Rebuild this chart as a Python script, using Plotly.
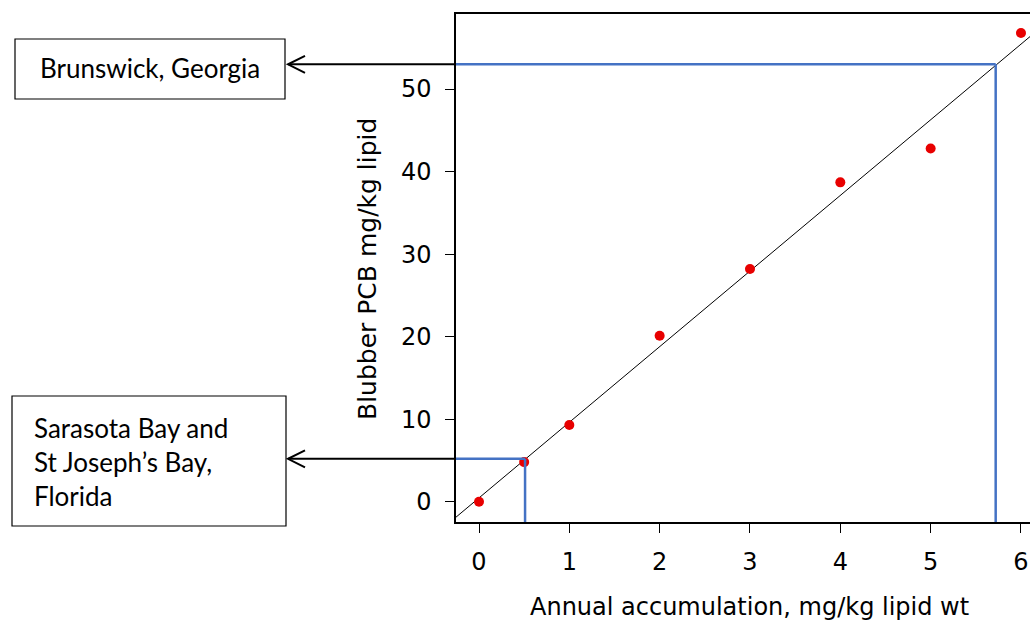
import numpy as np
import plotly.graph_objects as go

# ---- data ----
accum = [0, 0.5, 1, 2, 3, 4, 5, 6]                       # mg/kg lipid wt per year
blubber = [0.0, 4.8, 9.3, 20.1, 28.2, 38.7, 42.8, 56.8]  # mg/kg lipid
lookup_x = [0.51, 5.72]        # annual accumulation read-off points
lookup_y = [5.2, 53.0]         # corresponding blubber PCB levels
site_labels = ["Sarasota Bay and<br>St Joseph\u2019s Bay,<br>Florida", "Brunswick, Georgia"]
x_ticks = [0, 1, 2, 3, 4, 5, 6]
y_ticks = [0, 10, 20, 30, 40, 50]
x_title = "Annual accumulation, mg/kg lipid wt"
y_title = "Blubber PCB mg/kg lipid"

# regression line
slope, intercept = np.polyfit(accum, blubber, 1)

# ---- layout geometry (pixels) ----
W, H = 1030, 627
PL, PR, PT, PB = 456, 1030, 14, 522
XR = [-0.2546, 6.10]
YR = [-2.46, 59.1]


def px(xp):
    return (xp - PL) / (PR - PL)


def py(yp):
    return (PB - yp) / (PB - PT)


yunit_per_px = (YR[1] - YR[0]) / (PB - PT)

fig = go.Figure()

# fitted line across full x range
fx = np.array(XR)
fig.add_trace(go.Scatter(x=fx, y=intercept + slope * fx, mode="lines",
                         line=dict(color="black", width=1), hoverinfo="skip",
                         showlegend=False))

# data points
fig.add_trace(go.Scatter(x=accum, y=blubber, mode="markers",
                         marker=dict(color="#e80000", size=10),
                         showlegend=False, cliponaxis=False))

shapes = []
blue = "#4472C4"
for lx, ly in zip(lookup_x, lookup_y):
    shapes.append(dict(type="line", xref="x", yref="y", x0=lx, x1=lx, y0=YR[0], y1=ly,
                       line=dict(color=blue, width=2.5)))
    shapes.append(dict(type="line", xref="x", yref="y", x0=XR[0], x1=lx, y0=ly, y1=ly,
                       line=dict(color=blue, width=2.5)))
    shapes.append(dict(type="line", xref="paper", yref="y", x0=px(455), x1=px(288), y0=ly, y1=ly,
                       line=dict(color="black", width=2)))
    dy = 8.5 * yunit_per_px
    shapes.append(dict(type="path", xref="paper", yref="y",
                       path=f"M {px(305)},{ly + dy} L {px(288)},{ly} L {px(305)},{ly - dy}",
                       line=dict(color="black", width=2)))

# label boxes
shapes.append(dict(type="rect", xref="paper", yref="paper", x0=px(15), x1=px(285), y0=py(39), y1=py(99),
                   line=dict(color="black", width=1.2), fillcolor="white"))
shapes.append(dict(type="rect", xref="paper", yref="paper", x0=px(12), x1=px(286), y0=py(396), y1=py(526),
                   line=dict(color="black", width=1.2), fillcolor="white"))

annotations = [
    dict(text=site_labels[1], xref="paper", yref="paper", x=px(150), y=py(68), xanchor="center",
         yanchor="middle", showarrow=False, font=dict(family="Lato", size=26, color="black")),
    dict(text=site_labels[0], xref="paper", yref="paper", x=px(32), y=py(462), xanchor="left",
         yanchor="middle", align="left", showarrow=False,
         font=dict(family="Lato", size=26, color="black")),
    dict(text=x_title, xref="paper", yref="paper", x=px(749), y=py(607), xanchor="center",
         yanchor="middle", showarrow=False, font=dict(family="DejaVu Sans", size=24, color="black")),
    dict(text=y_title, xref="paper", yref="paper", x=px(367), y=py(269), xanchor="center",
         yanchor="middle", textangle=-90, showarrow=False,
         font=dict(family="DejaVu Sans", size=25, color="black")),
]

fig.update_layout(
    width=W, height=H,
    margin=dict(l=PL, r=W - PR, t=PT, b=H - PB, pad=0),
    paper_bgcolor="white", plot_bgcolor="white",
    shapes=shapes, annotations=annotations,
    xaxis=dict(range=XR, tickvals=x_ticks, showgrid=False, zeroline=False,
               showline=True, linecolor="black", linewidth=1.5, mirror=True,
               ticks="outside", ticklen=9, tickcolor="black", tickwidth=1.2,
               ticklabelstandoff=8,
               tickfont=dict(family="DejaVu Sans", size=24, color="black")),
    yaxis=dict(range=YR, tickvals=y_ticks, showgrid=False, zeroline=False,
               showline=True, linecolor="black", linewidth=1.5, mirror=False,
               ticks="outside", ticklen=9, tickcolor="black", tickwidth=1.2,
               ticklabelstandoff=9,
               tickfont=dict(family="DejaVu Sans", size=24, color="black")),
)

fig.write_html("out.html")
